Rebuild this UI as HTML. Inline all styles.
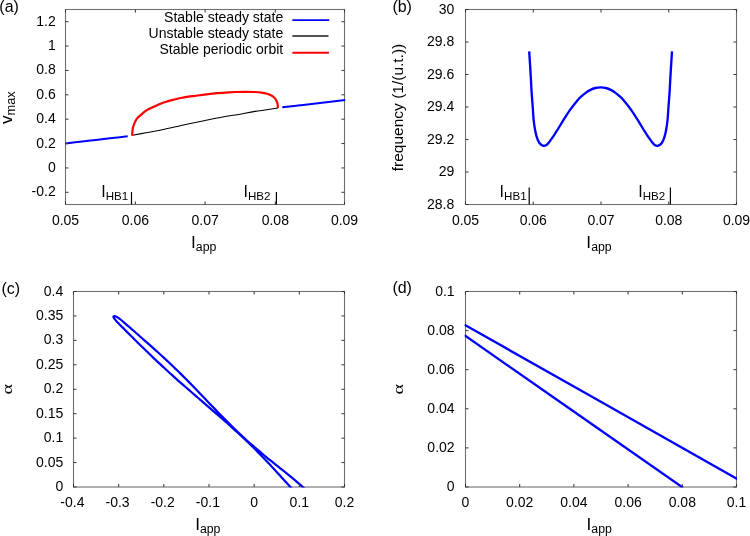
<!DOCTYPE html>
<html><head><meta charset="utf-8"><title>Bifurcation figure</title>
<style>
html,body{margin:0;padding:0;background:#fff;}
body{width:750px;height:536px;overflow:hidden;font-family:"Liberation Sans",sans-serif;}
svg{display:block;will-change:transform;}
</style></head><body>
<svg width="750" height="536" viewBox="0 0 750 536" font-family="Liberation Sans, sans-serif" font-size="14" fill="#000">
<rect width="750" height="536" fill="#fff"/>
<rect x="65.5" y="9.5" width="279" height="195" fill="none" stroke="#707070" stroke-width="1.1"/>
<path d="M65.5,143.4 C67.92,143.13 74.92,142.37 80,141.8 C85.08,141.23 90.67,140.62 96,140 C101.33,139.38 106.72,138.73 112,138.1 C117.28,137.47 125.08,136.52 127.7,136.2" fill="none" stroke="#0000ff" stroke-width="2" stroke-linejoin="round" stroke-linecap="butt"/>
<path d="M282.3,107.2 C285.25,106.88 293.72,106.02 300,105.3 C306.28,104.58 312.47,103.78 320,102.9 C327.53,102.02 341,100.48 345.2,100" fill="none" stroke="#0000ff" stroke-width="2" stroke-linejoin="round" stroke-linecap="butt"/>
<path d="M132.6,135.2 C134.83,134.8 141.43,133.62 146,132.8 C150.57,131.98 154.12,131.52 160,130.3 C165.88,129.08 174.18,127.05 181.3,125.5 C188.42,123.95 195.58,122.45 202.7,121 C209.82,119.55 217.78,117.93 224,116.8 C230.22,115.67 234.83,115.1 240,114.2 C245.17,113.3 248.67,112.43 255,111.4 C261.33,110.37 274.17,108.57 278,108" fill="none" stroke="#000" stroke-width="1.1" stroke-linejoin="round" stroke-linecap="butt"/>
<path d="M132.2,135.8 C132.23,135.08 132.3,132.7 132.4,131.5 C132.5,130.3 132.65,129.43 132.8,128.6 C132.95,127.77 133.1,127.18 133.3,126.5 C133.5,125.82 133.77,125.15 134,124.5 C134.23,123.85 134.45,123.2 134.7,122.6 C134.95,122 135.22,121.45 135.5,120.9 C135.78,120.35 136.03,119.82 136.4,119.3 C136.77,118.78 137.23,118.28 137.7,117.8 C138.17,117.32 138.38,117.15 139.2,116.4 C140.02,115.65 141.38,114.3 142.6,113.3 C143.82,112.3 145.2,111.25 146.5,110.4 C147.8,109.55 148.98,108.88 150.4,108.2 C151.82,107.52 153.3,107.03 155,106.3 C156.7,105.57 158.73,104.55 160.6,103.8 C162.47,103.05 164.33,102.42 166.2,101.8 C168.07,101.18 169.93,100.62 171.8,100.1 C173.67,99.58 175.53,99.12 177.4,98.7 C179.27,98.28 181.13,97.95 183,97.6 C184.87,97.25 186.6,96.9 188.6,96.6 C190.6,96.3 192.07,96.17 195,95.8 C197.93,95.43 202.47,94.83 206.2,94.4 C209.93,93.97 213.67,93.55 217.4,93.2 C221.13,92.85 225.67,92.5 228.6,92.3 C231.53,92.1 232.27,92.07 235,92 C237.73,91.93 241.67,91.9 245,91.9 C248.33,91.9 252.22,91.88 255,92 C257.78,92.12 259.7,92.32 261.7,92.6 C263.7,92.88 265.45,93.25 267,93.7 C268.55,94.15 269.78,94.63 271,95.3 C272.22,95.97 273.42,96.85 274.3,97.7 C275.18,98.55 275.77,99.42 276.3,100.4 C276.83,101.38 277.23,102.33 277.5,103.6 C277.77,104.87 277.83,107.27 277.9,108" fill="none" stroke="#ff0000" stroke-width="2.2" stroke-linejoin="round" stroke-linecap="butt"/>
<line x1="65.5" y1="204.5" x2="65.5" y2="201.5" stroke="#333" stroke-width="1"/>
<line x1="65.5" y1="9.5" x2="65.5" y2="12.5" stroke="#333" stroke-width="1"/>
<text x="65.5" y="225" text-anchor="middle">0.05</text>
<line x1="135.4" y1="204.5" x2="135.4" y2="201.5" stroke="#333" stroke-width="1"/>
<line x1="135.4" y1="9.5" x2="135.4" y2="12.5" stroke="#333" stroke-width="1"/>
<text x="135.4" y="225" text-anchor="middle">0.06</text>
<line x1="205.1" y1="204.5" x2="205.1" y2="201.5" stroke="#333" stroke-width="1"/>
<line x1="205.1" y1="9.5" x2="205.1" y2="12.5" stroke="#333" stroke-width="1"/>
<text x="205.1" y="225" text-anchor="middle">0.07</text>
<line x1="275.3" y1="204.5" x2="275.3" y2="201.5" stroke="#333" stroke-width="1"/>
<line x1="275.3" y1="9.5" x2="275.3" y2="12.5" stroke="#333" stroke-width="1"/>
<text x="275.3" y="225" text-anchor="middle">0.08</text>
<line x1="344.5" y1="204.5" x2="344.5" y2="201.5" stroke="#333" stroke-width="1"/>
<line x1="344.5" y1="9.5" x2="344.5" y2="12.5" stroke="#333" stroke-width="1"/>
<text x="344.5" y="225" text-anchor="middle">0.09</text>
<line x1="65.5" y1="192.31" x2="68.5" y2="192.31" stroke="#333" stroke-width="1"/>
<line x1="344.5" y1="192.31" x2="341.5" y2="192.31" stroke="#333" stroke-width="1"/>
<text x="55.7" y="196.31" text-anchor="end">-0.2</text>
<line x1="65.5" y1="167.94" x2="68.5" y2="167.94" stroke="#333" stroke-width="1"/>
<line x1="344.5" y1="167.94" x2="341.5" y2="167.94" stroke="#333" stroke-width="1"/>
<text x="55.7" y="171.94" text-anchor="end">0</text>
<line x1="65.5" y1="143.56" x2="68.5" y2="143.56" stroke="#333" stroke-width="1"/>
<line x1="344.5" y1="143.56" x2="341.5" y2="143.56" stroke="#333" stroke-width="1"/>
<text x="55.7" y="147.56" text-anchor="end">0.2</text>
<line x1="65.5" y1="119.19" x2="68.5" y2="119.19" stroke="#333" stroke-width="1"/>
<line x1="344.5" y1="119.19" x2="341.5" y2="119.19" stroke="#333" stroke-width="1"/>
<text x="55.7" y="123.19" text-anchor="end">0.4</text>
<line x1="65.5" y1="94.81" x2="68.5" y2="94.81" stroke="#333" stroke-width="1"/>
<line x1="344.5" y1="94.81" x2="341.5" y2="94.81" stroke="#333" stroke-width="1"/>
<text x="55.7" y="98.81" text-anchor="end">0.6</text>
<line x1="65.5" y1="70.44" x2="68.5" y2="70.44" stroke="#333" stroke-width="1"/>
<line x1="344.5" y1="70.44" x2="341.5" y2="70.44" stroke="#333" stroke-width="1"/>
<text x="55.7" y="74.44" text-anchor="end">0.8</text>
<line x1="65.5" y1="46.06" x2="68.5" y2="46.06" stroke="#333" stroke-width="1"/>
<line x1="344.5" y1="46.06" x2="341.5" y2="46.06" stroke="#333" stroke-width="1"/>
<text x="55.7" y="50.06" text-anchor="end">1</text>
<line x1="65.5" y1="21.69" x2="68.5" y2="21.69" stroke="#333" stroke-width="1"/>
<line x1="344.5" y1="21.69" x2="341.5" y2="21.69" stroke="#333" stroke-width="1"/>
<text x="55.7" y="25.69" text-anchor="end">1.2</text>
<text x="203.7" y="247.6" text-anchor="middle" font-size="17.2">I<tspan font-size="12.3" dy="3.3">app</tspan></text>
<text transform="translate(12.2,107.7) rotate(-90)" text-anchor="middle" font-size="17.2">v<tspan font-size="12.8" dy="2.5">max</tspan></text>
<text x="-0.7" y="12.0" font-size="16">(a)</text>
<text x="101.2" y="196.5" font-size="16">I<tspan font-size="11.6" dy="3.3">HB1</tspan></text>
<line x1="131.5" y1="192" x2="131.5" y2="204.5" stroke="#000" stroke-width="1.2"/>
<text x="243.5" y="196.7" font-size="16">I<tspan font-size="11.6" dy="3.3">HB2</tspan></text>
<line x1="276.4" y1="192" x2="276.4" y2="204.5" stroke="#000" stroke-width="1.2"/>
<text x="283.2" y="21.7" text-anchor="end">Stable steady state</text>
<text x="283.2" y="38" text-anchor="end">Unstable steady state</text>
<text x="283.2" y="54" text-anchor="end">Stable periodic orbit</text>
<line x1="292.4" y1="20.1" x2="329.2" y2="20.1" stroke="#0000ff" stroke-width="1.9"/>
<line x1="292.4" y1="36" x2="328.5" y2="36" stroke="#1a1a1a" stroke-width="1.5"/>
<line x1="292.4" y1="52.8" x2="328.9" y2="52.8" stroke="#ff0000" stroke-width="1.9"/>
<rect x="465.5" y="9.5" width="271" height="195" fill="none" stroke="#707070" stroke-width="1.1"/>
<path d="M529.2,51.4 C529.32,53.23 529.67,58.7 529.9,62.4 C530.13,66.1 530.38,69.87 530.6,73.6 C530.82,77.33 531,81.23 531.2,84.8 C531.4,88.37 531.53,91.13 531.8,95 C532.07,98.87 532.5,103.92 532.8,108 C533.1,112.08 533.23,115.92 533.6,119.5 C533.97,123.08 534.48,126.62 535,129.5 C535.52,132.38 535.97,134.55 536.7,136.8 C537.43,139.05 538.28,141.5 539.4,143 C540.52,144.5 542.22,145.48 543.4,145.8 C544.58,146.12 545.52,145.55 546.5,144.9 C547.48,144.25 548.43,142.95 549.3,141.9 C550.17,140.85 550.92,139.7 551.7,138.6 C552.48,137.5 553.23,136.45 554,135.3 C554.77,134.15 555.53,132.92 556.3,131.7 C557.07,130.48 557.57,129.68 558.6,128 C559.63,126.32 560.62,124.58 562.5,121.6 C564.38,118.62 567.42,113.63 569.9,110.1 C572.38,106.57 575.38,102.77 577.4,100.4 C579.42,98.03 580.57,97.2 582,95.9 C583.43,94.6 584.67,93.57 586,92.6 C587.33,91.63 588.43,90.87 590,90.1 C591.57,89.33 593.63,88.45 595.4,88 C597.17,87.55 598.87,87.4 600.6,87.4 C602.33,87.4 604.03,87.55 605.8,88 C607.57,88.45 609.63,89.33 611.2,90.1 C612.77,90.87 613.87,91.63 615.2,92.6 C616.53,93.57 617.77,94.6 619.2,95.9 C620.63,97.2 621.78,98.03 623.8,100.4 C625.82,102.77 628.82,106.57 631.3,110.1 C633.78,113.63 636.82,118.62 638.7,121.6 C640.58,124.58 641.57,126.32 642.6,128 C643.63,129.68 644.13,130.48 644.9,131.7 C645.67,132.92 646.43,134.15 647.2,135.3 C647.97,136.45 648.72,137.5 649.5,138.6 C650.28,139.7 651.03,140.85 651.9,141.9 C652.77,142.95 653.72,144.25 654.7,144.9 C655.68,145.55 656.62,146.12 657.8,145.8 C658.98,145.48 660.68,144.5 661.8,143 C662.92,141.5 663.77,139.05 664.5,136.8 C665.23,134.55 665.68,132.38 666.2,129.5 C666.72,126.62 667.23,123.08 667.6,119.5 C667.97,115.92 668.1,112.08 668.4,108 C668.7,103.92 669.13,98.87 669.4,95 C669.67,91.13 669.8,88.37 670,84.8 C670.2,81.23 670.38,77.33 670.6,73.6 C670.82,69.87 671.07,66.1 671.3,62.4 C671.53,58.7 671.88,53.23 672,51.4" fill="none" stroke="#0000ff" stroke-width="2.35" stroke-linejoin="round" stroke-linecap="butt"/>
<line x1="465.5" y1="204.5" x2="465.5" y2="201.5" stroke="#333" stroke-width="1"/>
<line x1="465.5" y1="9.5" x2="465.5" y2="12.5" stroke="#333" stroke-width="1"/>
<text x="465.5" y="225" text-anchor="middle">0.05</text>
<line x1="533.25" y1="204.5" x2="533.25" y2="201.5" stroke="#333" stroke-width="1"/>
<line x1="533.25" y1="9.5" x2="533.25" y2="12.5" stroke="#333" stroke-width="1"/>
<text x="533.25" y="225" text-anchor="middle">0.06</text>
<line x1="601" y1="204.5" x2="601" y2="201.5" stroke="#333" stroke-width="1"/>
<line x1="601" y1="9.5" x2="601" y2="12.5" stroke="#333" stroke-width="1"/>
<text x="601" y="225" text-anchor="middle">0.07</text>
<line x1="668.75" y1="204.5" x2="668.75" y2="201.5" stroke="#333" stroke-width="1"/>
<line x1="668.75" y1="9.5" x2="668.75" y2="12.5" stroke="#333" stroke-width="1"/>
<text x="668.75" y="225" text-anchor="middle">0.08</text>
<line x1="736.5" y1="204.5" x2="736.5" y2="201.5" stroke="#333" stroke-width="1"/>
<line x1="736.5" y1="9.5" x2="736.5" y2="12.5" stroke="#333" stroke-width="1"/>
<text x="736.5" y="225" text-anchor="middle">0.09</text>
<line x1="465.5" y1="204.5" x2="468.5" y2="204.5" stroke="#333" stroke-width="1"/>
<line x1="736.5" y1="204.5" x2="733.5" y2="204.5" stroke="#333" stroke-width="1"/>
<text x="454.3" y="208.5" text-anchor="end">28.8</text>
<line x1="465.5" y1="172" x2="468.5" y2="172" stroke="#333" stroke-width="1"/>
<line x1="736.5" y1="172" x2="733.5" y2="172" stroke="#333" stroke-width="1"/>
<text x="454.3" y="176" text-anchor="end">29</text>
<line x1="465.5" y1="139.5" x2="468.5" y2="139.5" stroke="#333" stroke-width="1"/>
<line x1="736.5" y1="139.5" x2="733.5" y2="139.5" stroke="#333" stroke-width="1"/>
<text x="454.3" y="143.5" text-anchor="end">29.2</text>
<line x1="465.5" y1="107" x2="468.5" y2="107" stroke="#333" stroke-width="1"/>
<line x1="736.5" y1="107" x2="733.5" y2="107" stroke="#333" stroke-width="1"/>
<text x="454.3" y="111" text-anchor="end">29.4</text>
<line x1="465.5" y1="74.5" x2="468.5" y2="74.5" stroke="#333" stroke-width="1"/>
<line x1="736.5" y1="74.5" x2="733.5" y2="74.5" stroke="#333" stroke-width="1"/>
<text x="454.3" y="78.5" text-anchor="end">29.6</text>
<line x1="465.5" y1="42" x2="468.5" y2="42" stroke="#333" stroke-width="1"/>
<line x1="736.5" y1="42" x2="733.5" y2="42" stroke="#333" stroke-width="1"/>
<text x="454.3" y="46" text-anchor="end">29.8</text>
<line x1="465.5" y1="9.5" x2="468.5" y2="9.5" stroke="#333" stroke-width="1"/>
<line x1="736.5" y1="9.5" x2="733.5" y2="9.5" stroke="#333" stroke-width="1"/>
<text x="454.3" y="13.5" text-anchor="end">30</text>
<text x="599" y="247.6" text-anchor="middle" font-size="17.2">I<tspan font-size="12.3" dy="3.3">app</tspan></text>
<text transform="translate(402.9,107.5) rotate(-90)" text-anchor="middle" font-size="15.5">frequency (1/(u.t.))</text>
<text x="392.4" y="12.1" font-size="16">(b)</text>
<text x="499.6" y="196.7" font-size="16">I<tspan font-size="11.6" dy="3.3">HB1</tspan></text>
<line x1="529.2" y1="187.4" x2="529.2" y2="204.5" stroke="#000" stroke-width="1.2"/>
<text x="638.3" y="196.7" font-size="16">I<tspan font-size="11.6" dy="3.3">HB2</tspan></text>
<line x1="670.4" y1="187.4" x2="670.4" y2="204.5" stroke="#000" stroke-width="1.2"/>
<rect x="73.5" y="291.5" width="271" height="195.5" fill="none" stroke="#707070" stroke-width="1.1"/>
<clipPath id="cc"><rect x="72.5" y="290.5" width="273.0" height="197.0"/></clipPath>
<g clip-path="url(#cc)">
<path d="M302.8,500.6 C301.88,499.62 299.12,496.67 297.3,494.7 C295.48,492.73 293.68,490.78 291.9,488.8 C290.12,486.82 288.38,484.78 286.6,482.8 C284.82,480.82 283,478.88 281.2,476.9 C279.4,474.92 277.62,472.88 275.8,470.9 C273.98,468.92 272.13,466.95 270.3,465 C268.47,463.05 266.65,461.12 264.8,459.2 C262.95,457.28 261.07,455.4 259.2,453.5 C257.33,451.6 255.48,449.68 253.6,447.8 C251.72,445.92 249.82,444.05 247.9,442.2 C245.98,440.35 244.05,438.52 242.1,436.7 C240.15,434.88 238.17,433.1 236.2,431.3 C234.23,429.5 232.28,427.68 230.3,425.9 C228.32,424.12 226.3,422.37 224.3,420.6 C222.3,418.83 220.32,417.05 218.3,415.3 C216.28,413.55 214.23,411.85 212.2,410.1 C210.17,408.35 208.12,406.55 206.1,404.8 C204.08,403.05 202.12,401.33 200.1,399.6 C198.08,397.87 196.02,396.15 194,394.4 C191.98,392.65 190.02,390.85 188,389.1 C185.98,387.35 183.92,385.65 181.9,383.9 C179.88,382.15 177.88,380.38 175.9,378.6 C173.92,376.82 171.97,375 170,373.2 C168.03,371.4 166.07,369.6 164.1,367.8 C162.13,366 160.15,364.22 158.2,362.4 C156.25,360.58 154.32,358.75 152.4,356.9 C150.48,355.05 148.62,353.17 146.7,351.3 C144.78,349.43 143.05,347.8 140.9,345.7 C138.75,343.6 135.82,340.68 133.8,338.7 C131.78,336.72 130.33,335.33 128.8,333.8 C127.27,332.27 125.88,330.8 124.6,329.5 C123.32,328.2 122.15,327.07 121.1,326 C120.05,324.93 119.12,323.95 118.3,323.1 C117.48,322.25 116.77,321.52 116.2,320.9 C115.63,320.28 115.27,319.85 114.9,319.4 C114.53,318.95 114.23,318.57 114,318.2 C113.77,317.83 113.58,317.48 113.5,317.2 C113.42,316.92 113.32,316.68 113.5,316.5 C113.68,316.32 114.23,316.12 114.6,316.1 C114.97,316.08 115.28,316.23 115.7,316.4 C116.12,316.57 116.58,316.8 117.1,317.1 C117.62,317.4 118.13,317.72 118.8,318.2 C119.47,318.68 120.2,319.27 121.1,320 C122,320.73 123.05,321.62 124.2,322.6 C125.35,323.58 126.62,324.7 128,325.9 C129.38,327.1 130.87,328.37 132.5,329.8 C134.13,331.23 135.67,332.62 137.8,334.5 C139.93,336.38 143.05,339.12 145.3,341.1 C147.55,343.08 149.3,344.63 151.3,346.4 C153.3,348.17 155.32,349.92 157.3,351.7 C159.28,353.48 161.25,355.3 163.2,357.1 C165.15,358.9 167.07,360.67 169,362.5 C170.93,364.33 172.88,366.25 174.8,368.1 C176.72,369.95 178.6,371.73 180.5,373.6 C182.4,375.47 184.32,377.4 186.2,379.3 C188.08,381.2 189.93,383.08 191.8,385 C193.67,386.92 195.55,388.87 197.4,390.8 C199.25,392.73 201.05,394.67 202.9,396.6 C204.75,398.53 206.65,400.48 208.5,402.4 C210.35,404.32 212.15,406.18 214,408.1 C215.85,410.02 217.73,411.98 219.6,413.9 C221.47,415.82 223.32,417.7 225.2,419.6 C227.08,421.5 229,423.43 230.9,425.3 C232.8,427.17 234.68,428.97 236.6,430.8 C238.52,432.63 240.45,434.48 242.4,436.3 C244.35,438.12 246.3,439.92 248.3,441.7 C250.3,443.48 252.37,445.25 254.4,447 C256.43,448.75 258.47,450.48 260.5,452.2 C262.53,453.92 264.53,455.62 266.6,457.3 C268.67,458.98 270.82,460.63 272.9,462.3 C274.98,463.97 277.02,465.63 279.1,467.3 C281.18,468.97 283.32,470.62 285.4,472.3 C287.48,473.98 289.55,475.68 291.6,477.4 C293.65,479.12 295.68,480.85 297.7,482.6 C299.72,484.35 301.75,486.08 303.7,487.9 C305.65,489.72 308.45,492.57 309.4,493.5" fill="none" stroke="#0000ff" stroke-width="2.2" stroke-linejoin="round" stroke-linecap="butt"/>
</g>
<line x1="73.5" y1="487" x2="73.5" y2="484" stroke="#333" stroke-width="1"/>
<line x1="73.5" y1="291.5" x2="73.5" y2="294.5" stroke="#333" stroke-width="1"/>
<text x="72.4" y="507" text-anchor="middle">-0.4</text>
<line x1="118.67" y1="487" x2="118.67" y2="484" stroke="#333" stroke-width="1"/>
<line x1="118.67" y1="291.5" x2="118.67" y2="294.5" stroke="#333" stroke-width="1"/>
<text x="117.57" y="507" text-anchor="middle">-0.3</text>
<line x1="163.83" y1="487" x2="163.83" y2="484" stroke="#333" stroke-width="1"/>
<line x1="163.83" y1="291.5" x2="163.83" y2="294.5" stroke="#333" stroke-width="1"/>
<text x="162.73" y="507" text-anchor="middle">-0.2</text>
<line x1="209" y1="487" x2="209" y2="484" stroke="#333" stroke-width="1"/>
<line x1="209" y1="291.5" x2="209" y2="294.5" stroke="#333" stroke-width="1"/>
<text x="207.9" y="507" text-anchor="middle">-0.1</text>
<line x1="254.17" y1="487" x2="254.17" y2="484" stroke="#333" stroke-width="1"/>
<line x1="254.17" y1="291.5" x2="254.17" y2="294.5" stroke="#333" stroke-width="1"/>
<text x="254.17" y="507" text-anchor="middle">0</text>
<line x1="299.33" y1="487" x2="299.33" y2="484" stroke="#333" stroke-width="1"/>
<line x1="299.33" y1="291.5" x2="299.33" y2="294.5" stroke="#333" stroke-width="1"/>
<text x="299.33" y="507" text-anchor="middle">0.1</text>
<line x1="344.5" y1="487" x2="344.5" y2="484" stroke="#333" stroke-width="1"/>
<line x1="344.5" y1="291.5" x2="344.5" y2="294.5" stroke="#333" stroke-width="1"/>
<text x="344.5" y="507" text-anchor="middle">0.2</text>
<line x1="73.5" y1="487" x2="76.5" y2="487" stroke="#333" stroke-width="1"/>
<line x1="344.5" y1="487" x2="341.5" y2="487" stroke="#333" stroke-width="1"/>
<text x="63.3" y="491" text-anchor="end">0</text>
<line x1="73.5" y1="462.56" x2="76.5" y2="462.56" stroke="#333" stroke-width="1"/>
<line x1="344.5" y1="462.56" x2="341.5" y2="462.56" stroke="#333" stroke-width="1"/>
<text x="63.3" y="466.56" text-anchor="end">0.05</text>
<line x1="73.5" y1="438.12" x2="76.5" y2="438.12" stroke="#333" stroke-width="1"/>
<line x1="344.5" y1="438.12" x2="341.5" y2="438.12" stroke="#333" stroke-width="1"/>
<text x="63.3" y="442.12" text-anchor="end">0.1</text>
<line x1="73.5" y1="413.69" x2="76.5" y2="413.69" stroke="#333" stroke-width="1"/>
<line x1="344.5" y1="413.69" x2="341.5" y2="413.69" stroke="#333" stroke-width="1"/>
<text x="63.3" y="417.69" text-anchor="end">0.15</text>
<line x1="73.5" y1="389.25" x2="76.5" y2="389.25" stroke="#333" stroke-width="1"/>
<line x1="344.5" y1="389.25" x2="341.5" y2="389.25" stroke="#333" stroke-width="1"/>
<text x="63.3" y="393.25" text-anchor="end">0.2</text>
<line x1="73.5" y1="364.81" x2="76.5" y2="364.81" stroke="#333" stroke-width="1"/>
<line x1="344.5" y1="364.81" x2="341.5" y2="364.81" stroke="#333" stroke-width="1"/>
<text x="63.3" y="368.81" text-anchor="end">0.25</text>
<line x1="73.5" y1="340.38" x2="76.5" y2="340.38" stroke="#333" stroke-width="1"/>
<line x1="344.5" y1="340.38" x2="341.5" y2="340.38" stroke="#333" stroke-width="1"/>
<text x="63.3" y="344.38" text-anchor="end">0.3</text>
<line x1="73.5" y1="315.94" x2="76.5" y2="315.94" stroke="#333" stroke-width="1"/>
<line x1="344.5" y1="315.94" x2="341.5" y2="315.94" stroke="#333" stroke-width="1"/>
<text x="63.3" y="319.94" text-anchor="end">0.35</text>
<line x1="73.5" y1="291.5" x2="76.5" y2="291.5" stroke="#333" stroke-width="1"/>
<line x1="344.5" y1="291.5" x2="341.5" y2="291.5" stroke="#333" stroke-width="1"/>
<text x="63.3" y="295.5" text-anchor="end">0.4</text>
<text x="207.8" y="529.6" text-anchor="middle" font-size="17.2">I<tspan font-size="12.3" dy="3.3">app</tspan></text>
<text transform="translate(12,389.3) rotate(-90) scale(1.18,0.86)" text-anchor="middle" font-size="17" font-family="Liberation Serif, serif">α</text>
<text x="1.5" y="293.5" font-size="16">(c)</text>
<rect x="465.5" y="291.5" width="271" height="195.5" fill="none" stroke="#707070" stroke-width="1.1"/>
<clipPath id="cd"><rect x="464.5" y="290.5" width="272.5" height="197.0"/></clipPath>
<g clip-path="url(#cd)">
<path d="M464.5,324.7 C509.95,350.42 691.75,453.28 737.2,479" fill="none" stroke="#0000ff" stroke-width="2.3" stroke-linejoin="round" stroke-linecap="butt"/>
<path d="M464.5,335.3 C500.92,360.7 646.58,462.3 683,487.7" fill="none" stroke="#0000ff" stroke-width="2.3" stroke-linejoin="round" stroke-linecap="butt"/>
</g>
<line x1="465.5" y1="487" x2="465.5" y2="484" stroke="#333" stroke-width="1"/>
<line x1="465.5" y1="291.5" x2="465.5" y2="294.5" stroke="#333" stroke-width="1"/>
<text x="465.5" y="507" text-anchor="middle">0</text>
<line x1="519.7" y1="487" x2="519.7" y2="484" stroke="#333" stroke-width="1"/>
<line x1="519.7" y1="291.5" x2="519.7" y2="294.5" stroke="#333" stroke-width="1"/>
<text x="519.7" y="507" text-anchor="middle">0.02</text>
<line x1="573.9" y1="487" x2="573.9" y2="484" stroke="#333" stroke-width="1"/>
<line x1="573.9" y1="291.5" x2="573.9" y2="294.5" stroke="#333" stroke-width="1"/>
<text x="573.9" y="507" text-anchor="middle">0.04</text>
<line x1="628.1" y1="487" x2="628.1" y2="484" stroke="#333" stroke-width="1"/>
<line x1="628.1" y1="291.5" x2="628.1" y2="294.5" stroke="#333" stroke-width="1"/>
<text x="628.1" y="507" text-anchor="middle">0.06</text>
<line x1="682.3" y1="487" x2="682.3" y2="484" stroke="#333" stroke-width="1"/>
<line x1="682.3" y1="291.5" x2="682.3" y2="294.5" stroke="#333" stroke-width="1"/>
<text x="682.3" y="507" text-anchor="middle">0.08</text>
<line x1="736.5" y1="487" x2="736.5" y2="484" stroke="#333" stroke-width="1"/>
<line x1="736.5" y1="291.5" x2="736.5" y2="294.5" stroke="#333" stroke-width="1"/>
<text x="736.5" y="507" text-anchor="middle">0.1</text>
<line x1="465.5" y1="487" x2="468.5" y2="487" stroke="#333" stroke-width="1"/>
<line x1="736.5" y1="487" x2="733.5" y2="487" stroke="#333" stroke-width="1"/>
<text x="454.6" y="491" text-anchor="end">0</text>
<line x1="465.5" y1="447.9" x2="468.5" y2="447.9" stroke="#333" stroke-width="1"/>
<line x1="736.5" y1="447.9" x2="733.5" y2="447.9" stroke="#333" stroke-width="1"/>
<text x="454.6" y="451.9" text-anchor="end">0.02</text>
<line x1="465.5" y1="408.8" x2="468.5" y2="408.8" stroke="#333" stroke-width="1"/>
<line x1="736.5" y1="408.8" x2="733.5" y2="408.8" stroke="#333" stroke-width="1"/>
<text x="454.6" y="412.8" text-anchor="end">0.04</text>
<line x1="465.5" y1="369.7" x2="468.5" y2="369.7" stroke="#333" stroke-width="1"/>
<line x1="736.5" y1="369.7" x2="733.5" y2="369.7" stroke="#333" stroke-width="1"/>
<text x="454.6" y="373.7" text-anchor="end">0.06</text>
<line x1="465.5" y1="330.6" x2="468.5" y2="330.6" stroke="#333" stroke-width="1"/>
<line x1="736.5" y1="330.6" x2="733.5" y2="330.6" stroke="#333" stroke-width="1"/>
<text x="454.6" y="334.6" text-anchor="end">0.08</text>
<line x1="465.5" y1="291.5" x2="468.5" y2="291.5" stroke="#333" stroke-width="1"/>
<line x1="736.5" y1="291.5" x2="733.5" y2="291.5" stroke="#333" stroke-width="1"/>
<text x="454.6" y="295.5" text-anchor="end">0.1</text>
<text x="599.2" y="529.6" text-anchor="middle" font-size="17.2">I<tspan font-size="12.3" dy="3.3">app</tspan></text>
<text transform="translate(403,389.3) rotate(-90) scale(1.18,0.86)" text-anchor="middle" font-size="17" font-family="Liberation Serif, serif">α</text>
<text x="392.4" y="293.3" font-size="16">(d)</text>
</svg>
</body></html>
